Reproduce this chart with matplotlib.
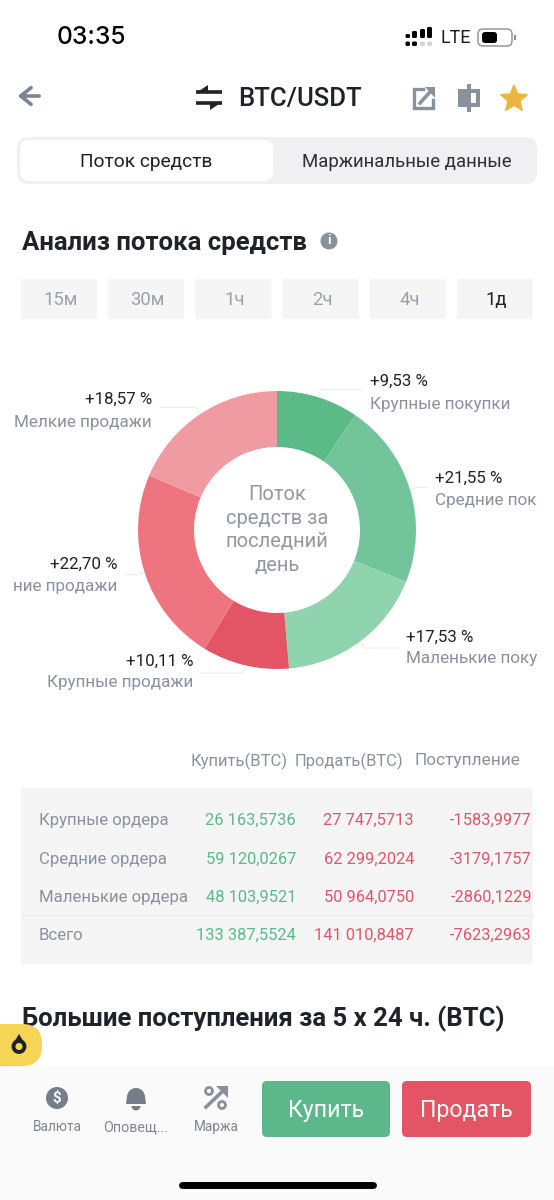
import numpy as np
import matplotlib
matplotlib.use("Agg")
import matplotlib.pyplot as plt
from matplotlib.patches import FancyBboxPatch, Rectangle, Circle, Polygon, Wedge

plt.rcParams['font.family'] = ['Roboto', 'DejaVu Sans']

# Donut data (names are cut by the screen edge in the screenshot)
shares = [9.53, 21.55, 17.53, 10.11, 22.70, 18.57]
share_labels = ["+9,53 %", "+21,55 %", "+17,53 %", "+10,11 %", "+22,70 %", "+18,57 %"]
share_names = ["Крупные покупки", "Средние пок", "Маленькие поку",
               "Крупные продажи", "ние продажи", "Мелкие продажи"]
share_colors = ["#5CBA89", "#72C59B", "#90D3AF", "#E35464", "#EE7480", "#F09BA2"]

# Table data
row_names = ["Крупные ордера", "Средние ордера", "Маленькие ордера", "Всего"]
buy_values = ["26 163,5736", "59 120,0267", "48 103,9521", "133 387,5524"]
sell_values = ["27 747,5713", "62 299,2024", "50 964,0750", "141 010,8487"]
inflow_values = ["-1583,9977", "-3179,1757", "-2860,1229", "-7623,2963"]
col_names = ["Купить(BTC)", "Продать(BTC)", "Поступление"]
periods = ["15м", "30м", "1ч", "2ч", "4ч", "1д"]

DARK = "#1E2329"
GREY = "#8A919E"
LIGHT = "#EBEDF0"
GREEN = "#5CB88A"
RED = "#E0566A"

fig = plt.figure(figsize=(5.54, 12), dpi=100, facecolor="white")
ax = fig.add_axes([0, 0, 1, 1])
ax.set_xlim(0, 554)
ax.set_ylim(1200, 0)
ax.axis("off")


def box(x0, y0, x1, y1, color, r=4, z=1, **kw):
    p = FancyBboxPatch((x0 + r, y0 + r), x1 - x0 - 2 * r, y1 - y0 - 2 * r,
                       boxstyle=f"round,pad={r},rounding_size={r}",
                       fc=color, ec="none", zorder=z, **kw)
    ax.add_patch(p)
    return p


def txt(x, y, s, size, color=DARK, ha="left", weight="normal", va="center", **kw):
    return ax.text(x, y, s, fontsize=size, color=color, ha=ha, va=va,
                   fontweight=weight, **kw)


# Status bar
txt(57, 38, "03:35", 17.7, "#000000", weight="medium", family=["Inter", "DejaVu Sans"])
for i, (top, w) in enumerate(zip([34, 31, 29, 27], [4.5, 5, 5, 5])):
    x = [405.5, 412, 420, 427][i]
    box(x, top, x + w, 38, "#000000", r=1.5)
    box(x, 41.5, x + w, 46, "#000000" if i < 2 else "#D5D5D5", r=1.5)
txt(441, 38, "LTE", 13, "#1A1A1A")
ax.add_patch(FancyBboxPatch((478, 29), 34, 17, boxstyle="round,pad=0,rounding_size=5",
                            fc="white", ec="#8E8E8E", lw=1))
box(482, 32, 497, 43, "#000000", r=3, z=2)
ax.add_patch(Rectangle((514, 35), 1.5, 5, fc="#8E8E8E", ec="none"))

# Header
ax.annotate("", xy=(15, 96), xytext=(42, 96),
            arrowprops=dict(arrowstyle="->,head_length=0.75,head_width=0.6", color="#7C8493", lw=2.6))
ax.plot([196, 222], [92, 92], color=DARK, lw=2.6, solid_capstyle="butt")
ax.plot([196, 222], [103, 103], color=DARK, lw=2.6, solid_capstyle="butt")
ax.add_patch(Polygon([[196, 93], [208, 93], [208, 85]], fc=DARK, ec="none"))
ax.add_patch(Polygon([[222, 102], [210, 102], [210, 110]], fc=DARK, ec="none"))
txt(238, 99, "BTC/USDT", 18.5, DARK, weight="medium")
# share icon
ax.plot([423, 413.5, 413.5, 433, 433], [88.5, 88.5, 107.5, 107.5, 100], color=GREY, lw=2.4,
        solid_joinstyle="miter")
ax.plot([420, 430], [103, 92], color=GREY, lw=2.6)
ax.add_patch(Polygon([[425, 87], [435, 87], [435, 98]], fc=GREY, ec="none"))
# candle icon
ax.add_patch(Rectangle((458, 89), 22, 18, fc=GREY, ec="none"))
ax.add_patch(Rectangle((467, 84), 4, 28, fc=GREY, ec="none"))
ax.add_patch(Rectangle((471, 93), 5, 10, fc="white", ec="none"))
# star
star_ang = np.deg2rad(np.arange(0, 360, 36) - 90)
star_r = np.array([14, 6.3] * 5)
ax.add_patch(Polygon(np.c_[514 + star_r * np.cos(star_ang), 99 + star_r * np.sin(star_ang)],
                     fc="#EDB53F", ec="#EDB53F", lw=1, joinstyle="round"))

# Tabs
box(17, 137, 537, 184, "#F0F0F2", r=12)
box(20, 140, 273, 181, "white", r=9, z=2)
txt(146.5, 162, "Поток средств", 13.8, DARK, ha="center", zorder=3)
txt(407, 162, "Маржинальные данные", 13.4, "#2B3139", ha="center", zorder=3)

# Section title
txt(22, 243, "Анализ потока средств", 18.5, DARK, weight="bold")
ax.add_patch(Circle((329, 241), 8.5, fc=GREY, ec="none"))
txt(329, 241, "i", 9.5, "white", ha="center", weight="bold")

# Period buttons
for i, p in enumerate(periods):
    x0 = 21 + i * 87.2
    box(x0, 279, x0 + 76, 319, "#F5F5F5", r=2)
    txt(x0 + 39.5, 300, p, 13.3, DARK if p == "1д" else "#9BA1AB", ha="center")

# Donut
ax_d = fig.add_axes([138 / 554, (1200 - 669) / 1200, 278 / 554, 278 / 1200])
ax_d.pie(shares, colors=share_colors, startangle=90, counterclock=False, radius=1,
         wedgeprops=dict(width=56 / 139, lw=0))
ax_d.set_xlim(-1, 1)
ax_d.set_ylim(-1, 1)
for ly, line in zip([495, 519, 542, 566], ["Поток", "средств за", "последний", "день"]):
    txt(277, ly, line, 14.5, "#9298A3", ha="center")

# label anchors
label_x = [370, 435, 406, 193, 117, 152]
label_ha = ["left", "left", "left", "right", "right", "right"]
label_y = [381, 478, 637, 661, 564, 399]
name_y = [404, 500, 659, 683, 587, 422]
leader_end = [362, 428, 398, 200, 125, 160]

mid = 90 - (np.cumsum(shares) - np.array(shares) / 2) / sum(shares) * 360
for a, lab, name, x, ha, y0, y1, xe in zip(mid, share_labels, share_names, label_x, label_ha,
                                           label_y, name_y, leader_end):
    c, s = np.cos(np.deg2rad(a)), np.sin(np.deg2rad(a))
    ax.plot([277 + 125 * c, 277 + 139 * c], [530 - 125 * s, 530 - 139 * s], color="#FFFFFF", lw=0.8,
            alpha=0.75, zorder=6)
    ey = 530 - 147 * s
    ax.plot([277 + 139 * c, 277 + 147 * c, xe], [530 - 139 * s, ey, ey], color=LIGHT, lw=0.8)
    txt(x, y0, lab, 12.2, DARK, ha=ha)
    txt(x, y1, name, 12.3, GREY, ha=ha)

# Table
for cx, name, fs in zip([288, 403, 520], col_names, [12, 11.9, 12.4]):
    txt(cx, 761, name, fs, GREY, ha="right")
box(21, 788, 533, 964, "#F5F5F5", r=3)
ax.plot([21, 533], [915, 915], color="#EBEBEB", lw=0.8, zorder=2)
for ry, name, b, s, f in zip([825, 864, 902, 940], row_names, buy_values, sell_values, inflow_values):
    txt(39, ry, name, 12.1, GREY, va="baseline")
    txt(296, ry, b, 11.9, GREEN, ha="right", va="baseline")
    txt(414, ry, s, 11.9, RED, ha="right", va="baseline")
    txt(532, ry, f, 11.9, RED, ha="right", va="baseline")

txt(22, 1019, "Большие поступления за 5 x 24 ч. (BTC)", 18.5, DARK, weight="bold")

# Bottom bar
ax.add_patch(Rectangle((0, 1066), 554, 134, fc="#FAFAFA", ec="none", zorder=4))
ax.add_patch(FancyBboxPatch((-30, 1024), 72, 42, boxstyle="round,pad=0,rounding_size=20",
                            fc="#F5D456", ec="none", zorder=5))
ax.add_patch(Circle((19, 1046.5), 5.5, fc="none", ec="#1E2329", lw=2.8, zorder=6))
ax.add_patch(Polygon([[19, 1034], [13.5, 1043], [24.5, 1043]], fc="#1E2329", ec="none", zorder=6))

# dollar
ax.add_patch(Circle((57, 1098), 11, fc="#767D8B", ec="none", zorder=6))
txt(57, 1098, "$", 11, "white", ha="center", weight="bold", zorder=7)
# bell
ax.add_patch(Wedge((136, 1097), 9, 180, 360, fc="#767D8B", ec="none", zorder=6))
ax.add_patch(Polygon([[127, 1096], [145, 1096], [146, 1104], [126, 1104]], fc="#767D8B", ec="none", zorder=6))
ax.add_patch(Wedge((136, 1106), 4.5, 0, 180, fc="#767D8B", ec="none", zorder=6))
# percent arrow
ax.plot([206, 226], [1107, 1088], color=GREY, lw=2.6, zorder=6)
ax.add_patch(Polygon([[216, 1086], [228, 1086], [228, 1098]], fc=GREY, ec="none", zorder=6))
ax.add_patch(Circle((209, 1091), 3.5, fc="none", ec=GREY, lw=2, zorder=6))
ax.add_patch(Circle((222, 1105), 3.5, fc="none", ec=GREY, lw=2, zorder=6))

txt(57, 1127, "Валюта", 9.8, "#7F8693", ha="center", zorder=6)
txt(136, 1127, "Оповещ...", 10.3, "#7F8693", ha="center", zorder=6)
txt(216, 1127, "Маржа", 9.8, "#7F8693", ha="center", zorder=6)

box(262, 1081, 390, 1137, "#5CB88A", r=5, z=5)
box(402, 1081, 531, 1137, "#E35464", r=5, z=5)
txt(326, 1111, "Купить", 16.7, "white", ha="center", zorder=6)
txt(466, 1111, "Продать", 16.7, "white", ha="center", zorder=6)
ax.plot([182, 373], [1185, 1185], color="#000000", lw=5, solid_capstyle="round", zorder=6)

fig.savefig("out.png", dpi=100)
